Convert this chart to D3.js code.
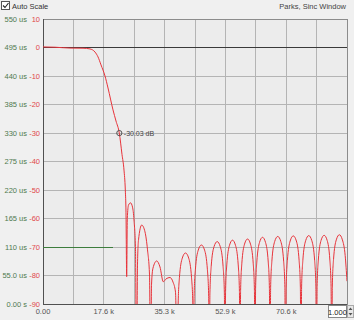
<!DOCTYPE html>
<html>
<head>
<meta charset="utf-8">
<script src="https://cdn.jsdelivr.net/npm/d3@7"></script>
<style>
  body { margin: 0; background: #f0f0f0; font-family: "Liberation Sans", Arial, sans-serif; }
  svg { display: block; }
</style>
</head>
<body>
<svg id="chart" width="354" height="320"></svg>
<script>
// frequency response (kHz, dB)
var freqK = [0.00, 3.48, 7.83, 11.61, 13.64, 15.09, 15.96, 16.83, 17.99, 18.86, 20.31, 21.18, 22.14, 22.92, 23.50, 23.88, 24.08, 24.28,
  24.46, 24.81, 25.39, 25.97, 26.40, 26.84, 27.13,
  27.42, 27.71, 28.64, 29.59, 30.32, 30.90, 31.25,
  31.48, 31.91, 32.98, 33.94, 34.90, 35.69, 36.85, 37.72, 38.44, 39.02,
  39.21, 39.58, 40.41, 41.34, 42.27, 43.10, 43.47, 43.66,
  43.84, 44.21, 45.04, 45.96, 46.88, 47.70, 48.07, 48.25,
  48.43, 48.80, 49.62, 50.53, 51.44, 52.25, 52.62, 52.80,
  52.97, 53.32, 54.11, 54.98, 55.85, 56.64, 56.99, 57.16,
  57.33, 57.68, 58.47, 59.34, 60.21, 61.00, 61.34, 61.51,
  61.68, 62.03, 62.82, 63.69, 64.56, 65.35, 65.69, 65.86,
  66.04, 66.40, 67.21, 68.11, 69.01, 69.82, 70.18, 70.36,
  70.54, 70.90, 71.71, 72.61, 73.51, 74.31, 74.67, 74.85,
  75.03, 75.39, 76.20, 77.10, 78.00, 78.81, 79.17, 79.35,
  79.53, 79.88, 80.67, 81.56, 82.45, 83.23, 83.58, 83.76,
  83.94, 84.29, 85.09, 85.98, 86.87, 87.67, 88.20];
var gainDb = [0.2, 0.1, -0.2, -0.25, -0.5, -1.6, -3.3, -6.1, -10, -14.2, -21.9, -25.8, -30.03, -37.5, -43, -50, -58, -80.4,
  -60, -55.3, -54.5, -56, -60.5, -71, -120,
  -76, -67.5, -62.3, -64.7, -71, -79.8, -120,
  -83.3, -77.4, -74.9, -77, -82.2, -81.2, -80.7, -82.3, -85.8, -120,
  -90, -80.8, -73.9, -72.1, -73.9, -80.8, -90, -120,
  -87.3, -78, -71.1, -69.3, -71.1, -78, -87.3, -120,
  -86.1, -76.8, -69.9, -68.1, -69.9, -76.8, -86.1, -120,
  -85.6, -76.3, -69.4, -67.6, -69.4, -76.3, -85.6, -120,
  -85.2, -75.9, -69.0, -67.2, -69.0, -75.9, -85.2, -120,
  -84.6, -75.3, -68.4, -66.6, -68.4, -75.3, -84.6, -120,
  -84.3, -75.0, -68.1, -66.3, -68.1, -75.0, -84.3, -120,
  -84.1, -74.8, -67.9, -66.1, -67.9, -74.8, -84.1, -120,
  -84.0, -74.7, -67.8, -66.0, -67.8, -74.7, -84.0, -120,
  -83.9, -74.6, -67.7, -65.9, -67.7, -74.6, -83.9, -120,
  -83.7, -74.4, -67.5, -65.7, -67.5, -73.0, -82];

// group delay (us)
var delayFreqK = [0, 20.3];
var delayUs = [110, 110];

// marker
var markerFreqK = 22.14;
var markerDb = -30.03;

var dbTicks = [10, 0, -10, -20, -30, -40, -50, -60, -70, -80, -90];
var usTicks = [550, 495, 440, 385, 330, 275, 220, 165, 110, 55, 0];
var usLabels = ["550 us", "495 us", "440 us", "385 us", "330 us", "275 us", "220 us", "165 us", "110 us", "55.0 us", "0.00 s"];
var freqGrid = [0, 8.82, 17.64, 26.46, 35.28, 44.1, 52.92, 61.74, 70.56, 79.38, 88.2];
var freqLabels = { 0: "0.00", 17.64: "17.6 k", 35.28: "35.3 k", 52.92: "52.9 k", 70.56: "70.6 k" };

var margin = {top: 19, right: 7, bottom: 16, left: 43},
    width = 354 - margin.left - margin.right,
    height = 320 - margin.top - margin.bottom;

var svg = d3.select("#chart");
var g = svg.append("g")
  .attr("transform", "translate(" + margin.left + "," + margin.top + ")");

var x = d3.scaleLinear().domain([0, 88.2]).range([0, width]);
var y = d3.scaleLinear().domain([-90, 10]).range([height, 0]);
var yUs = d3.scaleLinear().domain([0, 550]).range([height, 0]);

// plot background
g.append("rect")
  .attr("width", width).attr("height", height)
  .attr("fill", "#ececec");

// grid
g.selectAll(".vgrid").data(freqGrid).enter().append("line")
  .attr("x1", function(d) { return x(d); }).attr("x2", function(d) { return x(d); })
  .attr("y1", 0).attr("y2", height)
  .attr("stroke", "#b4b4b4").attr("stroke-width", 1)
  .attr("shape-rendering", "crispEdges");
g.selectAll(".hgrid").data(dbTicks).enter().append("line")
  .attr("x1", 0).attr("x2", width)
  .attr("y1", function(d) { return y(d); }).attr("y2", function(d) { return y(d); })
  .attr("stroke", "#b4b4b4").attr("stroke-width", 1)
  .attr("shape-rendering", "crispEdges");

// border
g.append("rect")
  .attr("width", width).attr("height", height)
  .attr("fill", "none").attr("stroke", "#8c8c8c")
  .attr("shape-rendering", "crispEdges");
g.append("line").attr("x1", 0).attr("x2", 0).attr("y1", 0).attr("y2", height)
  .attr("stroke", "#505050").attr("shape-rendering", "crispEdges");
g.append("line").attr("x1", 0).attr("x2", width).attr("y1", height).attr("y2", height)
  .attr("stroke", "#505050").attr("shape-rendering", "crispEdges");

// 0 dB reference line
g.append("line")
  .attr("x1", 0).attr("x2", width)
  .attr("y1", y(0)).attr("y2", y(0))
  .attr("stroke", "#3a3a3a").attr("shape-rendering", "crispEdges");

g.append("clipPath").attr("id", "clip")
  .append("rect").attr("width", width).attr("height", height);

// group delay
var delayData = delayFreqK.map(function(f, i) { return {f: f, v: delayUs[i]}; });
g.append("path")
  .datum(delayData)
  .attr("fill", "none").attr("stroke", "#3d7d3d").attr("stroke-width", 1)
  .attr("shape-rendering", "crispEdges")
  .attr("d", d3.line().x(function(d) { return x(d.f); }).y(function(d) { return yUs(d.v); }));

// magnitude
var magData = freqK.map(function(f, i) { return {f: f, v: gainDb[i]}; });
g.append("path")
  .datum(magData)
  .attr("clip-path", "url(#clip)")
  .attr("fill", "none").attr("stroke", "#e8333a").attr("stroke-width", 1)
  .attr("d", d3.line().curve(d3.curveMonotoneX)
    .x(function(d) { return x(d.f); }).y(function(d) { return y(d.v); }));

// marker
g.append("circle")
  .attr("cx", x(markerFreqK)).attr("cy", y(markerDb)).attr("r", 2.6)
  .attr("fill", "none").attr("stroke", "#444").attr("stroke-width", 0.9);
g.append("text")
  .attr("x", x(markerFreqK) + 4.5).attr("y", y(markerDb) + 2.5)
  .attr("font-size", "7px").attr("fill", "#444")
  .text(markerDb.toFixed(2) + " dB");

// left labels, dB (red)
g.selectAll(".dblab").data(dbTicks).enter().append("text")
  .attr("x", -3).attr("y", function(d) { return y(d) + 2.5; })
  .attr("text-anchor", "end").attr("font-size", "7.5px").attr("fill", "#e04848")
  .text(function(d) { return d; });

// left labels, group delay (green)
g.selectAll(".uslab").data(usTicks).enter().append("text")
  .attr("x", -16).attr("y", function(d) { return yUs(d) + 2.5; })
  .attr("text-anchor", "end").attr("font-size", "7.5px").attr("fill", "#4f7a4f")
  .text(function(d, i) { return usLabels[i]; });

// x labels
g.selectAll(".flab").data(freqGrid.filter(function(d) { return freqLabels[d] !== undefined; }))
  .enter().append("text")
  .attr("x", function(d) { return x(d); }).attr("y", height + 10)
  .attr("text-anchor", "middle").attr("font-size", "7.5px").attr("fill", "#555")
  .text(function(d) { return freqLabels[d]; });

// title
svg.append("text")
  .attr("x", 346).attr("y", 9)
  .attr("text-anchor", "end").attr("font-size", "7.5px").attr("fill", "#444")
  .text("Parks, Sinc Window");

// auto scale checkbox
svg.append("rect").attr("x", 1.5).attr("y", 1.5).attr("width", 8).attr("height", 8)
  .attr("fill", "#fff").attr("stroke", "#555");
svg.append("path").attr("d", "M3,5.5 L5,7.5 L8.5,3")
  .attr("fill", "none").attr("stroke", "#222").attr("stroke-width", 1.1);
svg.append("text").attr("x", 12).attr("y", 8.5)
  .attr("font-size", "7.5px").attr("fill", "#333").text("Auto Scale");

// zoom box at bottom right
svg.append("rect").attr("x", 328.5).attr("y", 305.5).attr("width", 18).attr("height", 12)
  .attr("fill", "#fff").attr("stroke", "#888");
svg.append("text").attr("x", 337.5).attr("y", 314.5).attr("text-anchor", "middle")
  .attr("font-size", "7.5px").attr("fill", "#222").text("1.000");
svg.append("rect").attr("x", 347.5).attr("y", 305.5).attr("width", 6).attr("height", 12)
  .attr("fill", "#e8e8e8").attr("stroke", "#aaa");
svg.append("path").attr("d", "M348.5,310 L350.5,307.5 L352.5,310 Z M348.5,313 L350.5,315.5 L352.5,313 Z")
  .attr("fill", "#555");
</script>
</body>
</html>
